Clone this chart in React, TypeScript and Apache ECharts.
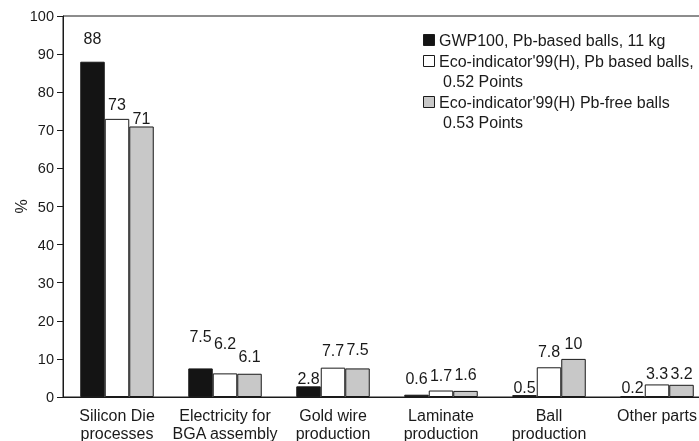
import React, { useEffect, useRef } from "react";
import * as echarts from "echarts";

const categories = [
  "Silicon Die\nprocesses",
  "Electricity for\nBGA assembly",
  "Gold wire\nproduction",
  "Laminate\nproduction",
  "Ball\nproduction",
  "Other parts",
];

const seriesNames = [
  "GWP100, Pb-based balls, 11 kg",
  "Eco-indicator'99(H), Pb based balls, 0.52 Points",
  "Eco-indicator'99(H) Pb-free balls 0.53 Points",
];

const legendLines = [
  ["GWP100, Pb-based balls, 11 kg"],
  ["Eco-indicator'99(H), Pb based balls,", "0.52 Points"],
  ["Eco-indicator'99(H) Pb-free balls", "0.53 Points"],
];

const gwpValues = [88, 7.5, 2.8, 0.6, 0.5, 0.2];
const ecoPbValues = [73, 6.2, 7.7, 1.7, 7.8, 3.3];
const ecoPbFreeValues = [71, 6.1, 7.5, 1.6, 10, 3.2];

const yTicks = { min: 0, max: 100, interval: 10 };

// label vertical lift (px) per series and category, as in the reference
const labelLift = [
  [15, 24, 0, 8, 0, 1],
  [6, 22, 9, 7, 8, 3],
  [0, 9, 11, 8, 7, 3],
];

const colors = ["#141414", "#ffffff", "#c8c8c8"];
const ink = "#1a1a1a";
const font = "Liberation Sans, Arial, sans-serif";

export default function App() {
  const ref = useRef<HTMLDivElement>(null);
  useEffect(() => {
    if (!ref.current) return;
    const chart = echarts.init(ref.current, null, { renderer: "svg" });
    const allValues = [gwpValues, ecoPbValues, ecoPbFreeValues];

    const legendGraphics: any[] = [];
    let lineIdx = 0;
    const lineY = [40, 61, 81, 102, 122];
    legendLines.forEach((lines, i) => {
      const cy = lineY[lineIdx];
      legendGraphics.push({
        type: "rect",
        shape: { x: 423.5, y: cy - 5.5, width: 11, height: 11 },
        style: { fill: colors[i], stroke: ink, lineWidth: 1 },
      });
      lines.forEach((t, k) => {
        legendGraphics.push({
          type: "text",
          x: k === 0 ? 439 : 443,
          y: lineY[lineIdx],
          style: {
            text: t,
            fill: ink,
            font: `16px ${font}`,
            align: "left",
            verticalAlign: "middle",
          },
        });
        lineIdx++;
      });
    });

    chart.setOption({
      animation: false,
      textStyle: { fontFamily: font },
      grid: {
        left: 63,
        top: 16,
        width: 648,
        height: 381,
        outerBoundsMode: "none",
        show: true,
        borderColor: ink,
        borderWidth: 1,
        backgroundColor: "transparent",
      },
      legend: { show: false, data: seriesNames },
      xAxis: {
        type: "category",
        data: categories,
        boundaryGap: true,
        axisLine: { lineStyle: { color: ink, width: 1 } },
        axisTick: { inside: true, length: 5, lineStyle: { color: ink } },
        axisLabel: {
          interval: 0,
          color: ink,
          fontSize: 16,
          lineHeight: 18,
          margin: 9,
          fontFamily: font,
          verticalAlign: "top",
        },
      },
      yAxis: {
        type: "value",
        min: yTicks.min,
        max: yTicks.max,
        interval: yTicks.interval,
        name: "%",
        nameLocation: "middle",
        nameGap: 34,
        nameRotate: 90,
        nameMoveOverlap: false,
        nameTextStyle: { color: ink, fontSize: 16, fontFamily: font },
        axisLine: { show: true, lineStyle: { color: ink, width: 1 } },
        axisTick: { show: true, length: 6, lineStyle: { color: ink } },
        splitLine: { show: false },
        axisLabel: { color: ink, fontSize: 14.5, margin: 9, fontFamily: font },
      },
      graphic: legendGraphics,
      series: allValues.map((vals, i) => ({
        name: seriesNames[i],
        type: "bar",
        barWidth: 24.5,
        barGap: "0%",
        itemStyle: { color: colors[i], borderColor: ink, borderWidth: 1 },
        label: {
          show: true,
          position: "top",
          distance: 0,
          color: ink,
          fontSize: 16,
          fontFamily: font,
        },
        data: vals.map((v, j) => ({
          value: v,
          label: { offset: [0, -labelLift[i][j]] },
        })),
      })),
    });
    return () => chart.dispose();
  }, []);
  return (
    <div
      ref={ref}
      style={{ position: "fixed", left: 0, top: 0, width: 699, height: 441 }}
    />
  );
}
